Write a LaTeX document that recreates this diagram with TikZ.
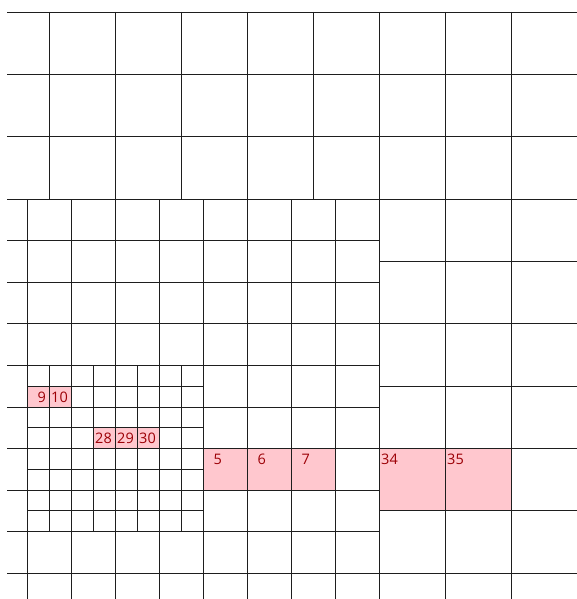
\documentclass[tikz,border=0pt]{standalone}
\usepackage{fontspec}
\setmainfont{Open Sans}
\definecolor{cellpink}{HTML}{FFC7CE}
\definecolor{celltext}{HTML}{9C0006}
\definecolor{gridline}{HTML}{1E1E1E}
\tikzset{
  gridrule/.style={gridline, line width=0.9pt},
  cellnum/.style={celltext, inner sep=0pt, anchor=east, font=\fontsize{14.5}{16}\selectfont}
}
\begin{document}
\begin{tikzpicture}[x=1pt, y=-1pt]
        \useasboundingbox (0,0) rectangle (577,599);
        % marked cells: left, top, width, height, label
        \foreach \cx/\cy/\cw/\ch/\lab in {27/386.0/22/20.8/9, 49/386.0/22/20.8/10,
            93/427.6/22/20.8/28, 115/427.6/22/20.8/29, 137/427.6/22/20.8/30,
            203/448.3/44/41.6/5, 247/448.3/44/41.6/6, 291/448.3/44/41.6/7,
            379/448.3/66/62.4/34, 445/448.3/66/62.4/35} {
          \fill[cellpink] (\cx,\cy) rectangle ++(\cw,\ch);
          \node[cellnum] (cell\lab) at (\cx+19,\cy+11) {\lab};
        }
        % large cells on top
        \foreach \k in {0,...,3}
          \draw[gridrule] (7,12+62.33*\k) -- (577,12+62.33*\k);
        \foreach \k in {0,...,7}
          \draw[gridrule] (49+66*\k,12) -- (49+66*\k,199);
        % large cells on the right
        \foreach \k in {1,...,6}
          \draw[gridrule] (379,199+62.33*\k) -- (577,199+62.33*\k);
        \foreach \k in {0,1}
          \draw[gridrule] (445+66*\k,199) -- (445+66*\k,599);
        % medium cells
        \foreach \k in {1,...,9}
          \draw[gridrule] (7,199+41.6*\k) -- (379,199+41.6*\k);
        \foreach \k in {0,...,8}
          \draw[gridrule] (27+44*\k,199) -- (27+44*\k,599);
        % small cells
        \foreach \k in {0,...,3} {
          \draw[gridrule] (27,386.0+41.6*\k) -- (203,386.0+41.6*\k);
          \draw[gridrule] (49+44*\k,365.2) -- (49+44*\k,531.6);
        }
      \end{tikzpicture}
\end{document}
